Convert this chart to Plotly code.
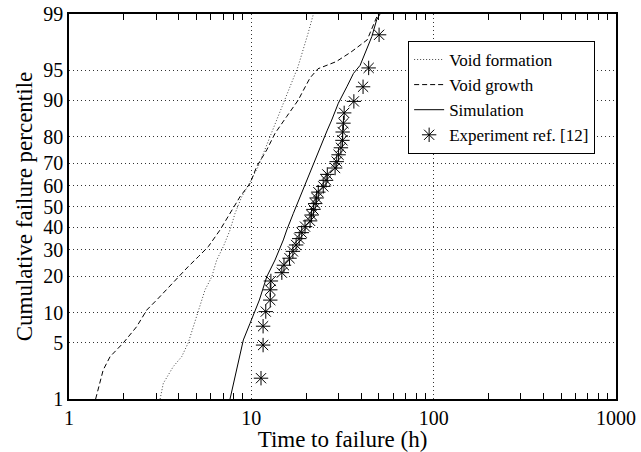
import plotly.graph_objects as go
from statistics import NormalDist

# ---------------- data ----------------
void_formation_t = [3.16, 3.29, 3.73, 4.15, 4.51, 4.81, 5.19, 5.57, 6.07, 6.46, 7.02,
                    7.64, 8.14, 8.86, 9.71, 10.9, 12.9, 15.3, 18.0, 20.5, 21.9]
void_formation_p = [1.0, 1.63, 2.65, 3.48, 4.99, 7.32, 10.55, 15.65, 19.8, 25.9, 31.4,
                    38.8, 46.7, 54.7, 60.7, 68.5, 81.3, 90.1, 95.4, 98.2, 99.0]

void_growth_t = [1.40, 1.48, 1.54, 1.68, 1.79, 1.99, 2.35, 2.67, 3.09, 3.82, 4.51, 5.12,
                 5.81, 6.73, 7.64, 8.67, 9.84, 10.7, 12.15, 13.5, 15.6, 18.1, 19.3, 21.0,
                 23.2, 29.2, 35.2, 43.2, 49.5]
void_growth_p = [1.0, 1.63, 2.41, 3.48, 3.97, 4.99, 7.32, 10.55, 13.37, 18.7, 23.4, 27.2,
                 31.4, 38.8, 46.7, 54.7, 61.0, 68.5, 75.3, 81.2, 86.1, 90.1, 92.0, 94.0,
                 95.2, 96.0, 96.9, 97.8, 99.0]

simulation_t = [7.64, 8.38, 9.04, 9.84, 10.48, 11.07, 12.15, 13.49, 14.98, 15.64, 17.0,
                18.5, 20.1, 21.9, 23.8, 26.1, 27.6, 30.0, 33.4, 36.3, 39.5, 42.0, 45.8,
                48.7, 50.8]
simulation_p = [1.0, 2.65, 5.34, 7.91, 10.19, 12.93, 19.8, 25.9, 34.3, 38.8, 46.7, 54.7,
                62.6, 69.9, 76.5, 82.2, 85.2, 89.4, 92.6, 94.6, 95.6, 96.8, 98.0, 98.8, 99.0]

experiment_t = [11.3, 11.6, 11.6, 12.0, 12.7, 12.7, 12.8, 14.7, 15.1, 16.2, 16.9, 17.6,
                18.3, 18.9, 19.7, 21.0, 21.4, 21.9, 22.4, 22.8, 23.3, 24.8, 25.7, 26.1,
                28.8, 29.4, 30.1, 31.0, 31.6, 31.7, 32.0, 32.3, 36.5, 41.0, 44.0, 50.2]
experiment_p = [1.9, 4.7, 7.4, 10.2, 12.9, 15.7, 18.4, 21.2, 23.9, 26.6, 29.4, 32.1,
                34.9, 37.6, 40.4, 43.1, 45.9, 48.6, 51.4, 54.1, 56.9, 59.6, 62.4, 65.1,
                67.9, 70.6, 73.4, 76.1, 78.8, 81.6, 84.3, 87.1, 89.8, 92.6, 95.3, 98.1]

y_tick_percentiles = [1, 5, 10, 20, 30, 40, 50, 60, 70, 80, 90, 95, 99]
x_tick_values = [1, 10, 100, 1000]
x_minor_values = [m * d for d in (1, 10, 100) for m in range(2, 10)]

# ---------------- probability scale ----------------
nd = NormalDist()


def z(p):
    return [nd.inv_cdf(v / 100.0) for v in p]


FONT = "Times New Roman, Liberation Serif, DejaVu Serif, serif"
GRID = "#333333"

fig = go.Figure()
fig.add_trace(go.Scatter(x=void_formation_t, y=z(void_formation_p), mode="lines",
                         name="Void formation",
                         line=dict(color="#444444", width=1, dash="1px,2px")))
fig.add_trace(go.Scatter(x=void_growth_t, y=z(void_growth_p), mode="lines",
                         name="Void growth",
                         line=dict(color="black", width=1, dash="5px,3px")))
# the simulation curve is drawn on the (identical) top axis so that axis is rendered
fig.add_trace(go.Scatter(x=simulation_t, y=z(simulation_p), mode="lines",
                         name="Simulation", xaxis="x2",
                         line=dict(color="black", width=1)))
fig.add_trace(go.Scatter(x=experiment_t, y=z(experiment_p), mode="markers",
                         name="Experiment ref. [12]",
                         marker=dict(symbol="asterisk-open", size=12, color="black",
                                     line=dict(color="black", width=1))))

zlim = nd.inv_cdf(0.99)

fig.update_layout(
    width=641, height=452,
    margin=dict(l=69, r=25, t=14, b=53, autoexpand=False),
    paper_bgcolor="white", plot_bgcolor="white",
    font=dict(family=FONT, size=20, color="black"),
    showlegend=True,
    legend=dict(x=0.62, y=0.93, xanchor="left", yanchor="top",
                bgcolor="white", bordercolor="black", borderwidth=1,
                font=dict(family=FONT, size=17, color="black"),
                itemwidth=30, tracegroupgap=0),
    xaxis=dict(type="log", range=[0, 3], tickmode="array", tickvals=x_tick_values,
               ticktext=[str(v) for v in x_tick_values], ticks="", automargin=False,
               showline=True, linecolor="black", linewidth=1.5, mirror=True,
               showgrid=True, gridcolor=GRID, griddash="1px,3px", gridwidth=1,
               zeroline=False,
               minor=dict(tickmode="array", tickvals=x_minor_values, ticks="inside",
                          ticklen=6, tickcolor="black", tickwidth=1, showgrid=False),
               title=dict(text="Time to failure (h)", standoff=0,
                          font=dict(family=FONT, size=23))),
    xaxis2=dict(type="log", range=[0, 3], overlaying="x", side="top", automargin=False,
                showticklabels=False, ticks="", showgrid=False, zeroline=False,
                showline=False,
                minor=dict(tickmode="array", tickvals=x_minor_values, ticks="inside",
                           ticklen=6, tickcolor="black", tickwidth=1, showgrid=False)),
    yaxis=dict(range=[-zlim, zlim], tickmode="array", tickvals=z(y_tick_percentiles),
               ticktext=[str(v) for v in y_tick_percentiles], ticks="", automargin=False,
               showline=True, linecolor="black", linewidth=1.5, mirror=True,
               showgrid=True, gridcolor=GRID, griddash="1px,3px", gridwidth=1,
               zeroline=False,
               title=dict(text="Cumulative failure percentile", standoff=4,
                          font=dict(family=FONT, size=23))),
)

fig.write_html("out.html")
